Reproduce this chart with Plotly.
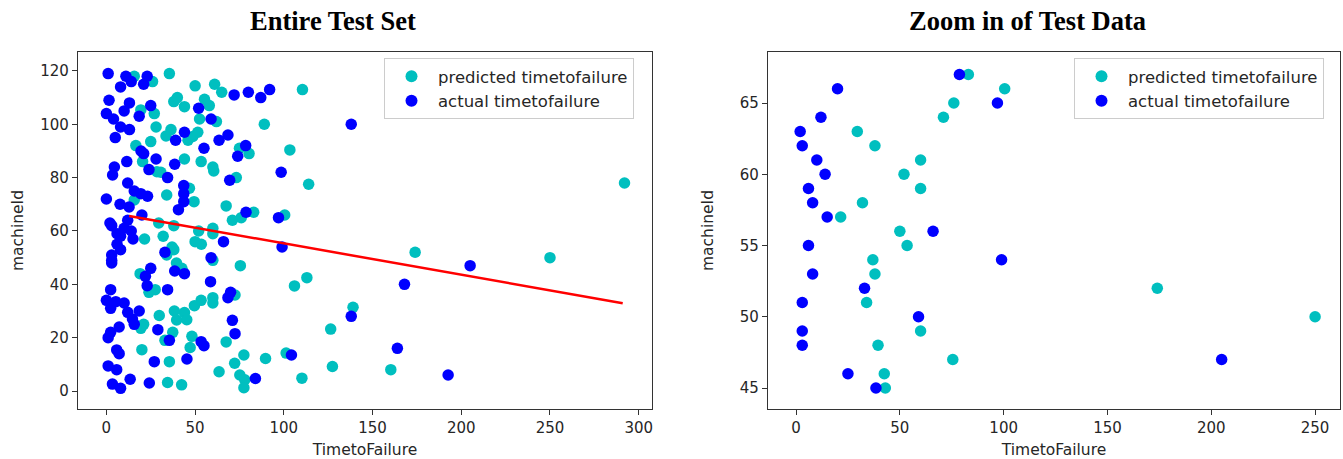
import plotly.graph_objects as go

# ---------------- data: entire test set ----------------
# predicted timetofailure (x) vs machineId (y)
pred_ttf = [35.5, 15.7, 26, 50, 61, 65, 110.5, 89,
            38, 40, 44, 55.3, 58, 52.5, 62,
            19.4, 27, 28, 36.4, 33.6, 46, 51.5, 48.7,
            25, 16.6, 44, 20.4, 53.4, 60, 28.5, 60.5, 30.7,
            75, 80.4, 103.4, 114, 73.2, 34, 46.8, 49.4, 15.7, 67.5, 292,
            83, 100.5, 76, 71, 29.5, 38, 60, 52, 60, 32, 21.5, 50, 53.5, 37, 38, 174, 34, 250, 60, 39.5, 75.5, 42.5, 43,
            19, 24, 27.5, 106, 113, 72.5, 60, 60, 53.4, 49.6, 139,
            29.8, 38.3, 39.6, 44, 45.3, 21, 19.4, 37.4, 33, 48.2, 47.2, 67.5, 126.4,
            20, 35.5, 101.3, 89.7, 77.5, 72.3, 63.5, 75.2, 78, 77.5, 110.2, 127.4, 160.3, 34.5, 42.4]
pred_machine = [119, 118, 116, 114.4, 115, 112, 113, 100,
                108.5, 110, 106.6, 109.4, 107, 102, 101,
                105.4, 104, 99, 98, 95.6, 94, 97, 95.4,
                93.5, 92, 87, 86, 86, 84, 82.2, 82.5, 82,
                91, 89, 90.4, 77.5, 80, 73.5, 76, 71, 71.6, 69.4, 78,
                67, 66, 65, 64, 63, 62, 61, 60, 59, 58, 57, 56, 55, 54, 53, 52, 51, 50, 49, 48, 47, 46, 45,
                44, 37, 38, 39.4, 42.5, 36, 35, 33, 34, 32, 31.4,
                28.3, 30, 26.6, 29.4, 26.7, 25, 23.5, 22, 19, 20.5, 16.3, 18.4, 23.2,
                15.5, 11, 14.2, 12.2, 13.5, 10.4, 7.2, 6, 4.2, 1.2, 4.8, 9.2, 8, 3.2, 2.3]

# actual timetofailure (x) vs machineId (y)
act_ttf = [1, 11, 23, 14, 8, 21,
           72, 80, 87, 92,
           1.5, 13, 10, 0, 18.5, 25,
           52, 59, 4, 8, 13, 5,
           44, 39, 55, 63.5, 68.5, 78.5, 74,
           98.5, 138,
           19.5, 21, 28, 11.5, 4.5, 38.5, 24, 3.5, 34.5, 69.5,
           12, 15.7, 19.4, 23.2, 0, 43.6, 43.6, 43.6, 40.6, 7.7, 12.8,
           78.7, 20, 97, 12, 2, 3, 10, 14, 6, 8, 15, 66, 6, 99, 8, 33, 3, 59, 3, 3, 205, 25, 38.5,
           44, 22, 23, 34.5, 58.7, 68.5, 70, 168,
           0, 2.4, 5.3, 10, 2.4, 12, 18.5, 14.7, 15.7,
           29, 35.5, 53.4, 55, 71, 72.5, 138, 7.2, 2.4, 1,
           5.8, 7.2, 27, 45.4, 1, 5.8, 13.4, 3.4, 8, 24.2, 84, 104.3, 164, 192.6]
act_machine = [119, 118, 118, 116, 114, 115,
               111, 112, 110, 113,
               109, 108, 105, 104, 103, 107,
               106, 102, 102, 99, 98, 95,
               97, 94, 91, 94, 96, 92, 88,
               82, 100,
               90, 89, 87, 86, 84, 85, 83, 81, 80, 79,
               78, 75, 74, 73, 72, 77, 74, 71, 68, 70, 69,
               67, 66, 65, 64, 63, 62, 61, 60, 59, 58, 57, 56, 55, 54, 53, 52, 51, 50, 49, 48, 47, 46, 45,
               44, 43, 39.5, 38, 41, 35, 37, 40,
               34, 38, 33.5, 33, 31, 29.5, 30, 27, 25,
               23, 19, 18.5, 17, 26.5, 21.5, 28, 24, 22, 20,
               15.4, 14, 11, 12, 9.4, 8, 4.4, 2.6, 1, 3, 4.7, 13.5, 16, 6]

# regression line endpoints
fit_ttf = [12.8, 291]
fit_machine = [65.6, 32.9]

# zoom window (machineId range)
zoom_lo, zoom_hi = 45, 67

zp = [(x, y) for x, y in zip(pred_ttf, pred_machine) if zoom_lo <= y <= zoom_hi and float(y).is_integer()]
za = [(x, y) for x, y in zip(act_ttf, act_machine) if zoom_lo <= y <= zoom_hi and float(y).is_integer()]

CYAN = "#00BFBF"
BLUE = "#0000FF"
MS = 11.5
TXT = "#262626"

fig = go.Figure()

fig.add_trace(go.Scatter(x=pred_ttf, y=pred_machine, mode="markers", name="predicted timetofailure",
                         marker=dict(color=CYAN, size=MS), xaxis="x", yaxis="y", legend="legend"))
fig.add_trace(go.Scatter(x=act_ttf, y=act_machine, mode="markers", name="actual timetofailure",
                         marker=dict(color=BLUE, size=MS), xaxis="x", yaxis="y", legend="legend"))
fig.add_trace(go.Scatter(x=fit_ttf, y=fit_machine, mode="lines", showlegend=False,
                         line=dict(color="#FF0000", width=2.5), xaxis="x", yaxis="y"))

fig.add_trace(go.Scatter(x=[p[0] for p in zp], y=[p[1] for p in zp], mode="markers",
                         name="predicted timetofailure", marker=dict(color=CYAN, size=MS),
                         xaxis="x2", yaxis="y2", legend="legend2"))
fig.add_trace(go.Scatter(x=[p[0] for p in za], y=[p[1] for p in za], mode="markers",
                         name="actual timetofailure", marker=dict(color=BLUE, size=MS),
                         xaxis="x2", yaxis="y2", legend="legend2"))

W, H = 1343, 459
axis_common = dict(showgrid=False, zeroline=False, showline=True, mirror=True,
                   linecolor="#333333", linewidth=1.2, ticks="outside", ticklen=5,
                   tickcolor="#333333", tickfont=dict(family="DejaVu Sans", size=15, color=TXT))
title_font = dict(family="DejaVu Sans", size=15.5, color=TXT)
legend_common = dict(yanchor="top", xanchor="left", bgcolor="rgba(255,255,255,0.8)",
                     bordercolor="#CCCCCC", borderwidth=1,
                     font=dict(family="DejaVu Sans", size=16.5, color=TXT),
                     itemsizing="constant", itemwidth=43, tracegroupgap=0)

ytop = 1 - 52 / H
ybot = 1 - 409 / H

fig.update_layout(
    width=W, height=H, margin=dict(l=0, r=0, t=0, b=0),
    plot_bgcolor="white", paper_bgcolor="white",
    xaxis=dict(domain=[78 / W, 652 / W], range=[-16, 307.5], tickvals=[0, 50, 100, 150, 200, 250, 300],
               anchor="y", title=dict(text="TimetoFailure", standoff=8, font=title_font),
               **axis_common),
    yaxis=dict(domain=[ybot, ytop], range=[-6.75, 127.1], tickvals=[0, 20, 40, 60, 80, 100, 120],
               anchor="x", title=dict(text="machineId", standoff=12, font=title_font),
               **axis_common),
    xaxis2=dict(domain=[768 / W, 1340 / W], range=[-13.5, 262], tickvals=[0, 50, 100, 150, 200, 250],
                anchor="y2", title=dict(text="TimetoFailure", standoff=8, font=title_font),
                **axis_common),
    yaxis2=dict(domain=[ybot, ytop], range=[43.53, 68.58], tickvals=[45, 50, 55, 60, 65],
                anchor="x2", title=dict(text="machineId", standoff=22, font=title_font),
                **axis_common),
    legend=dict(x=384 / W, y=1 - 58 / H, **legend_common),
    legend2=dict(x=1074 / W, y=1 - 58 / H, **legend_common),
    annotations=[
        dict(text="<b>Entire Test Set</b>", x=333 / W, y=1 - 21 / H, xref="paper", yref="paper",
             showarrow=False, font=dict(family="Liberation Serif", size=26.5, color="black"),
             xanchor="center", yanchor="middle"),
        dict(text="<b>Zoom in of Test Data</b>", x=1027 / W, y=1 - 21 / H, xref="paper", yref="paper",
             showarrow=False, font=dict(family="Liberation Serif", size=26.5, color="black"),
             xanchor="center", yanchor="middle"),
    ],
)

fig.write_html("out.html")
